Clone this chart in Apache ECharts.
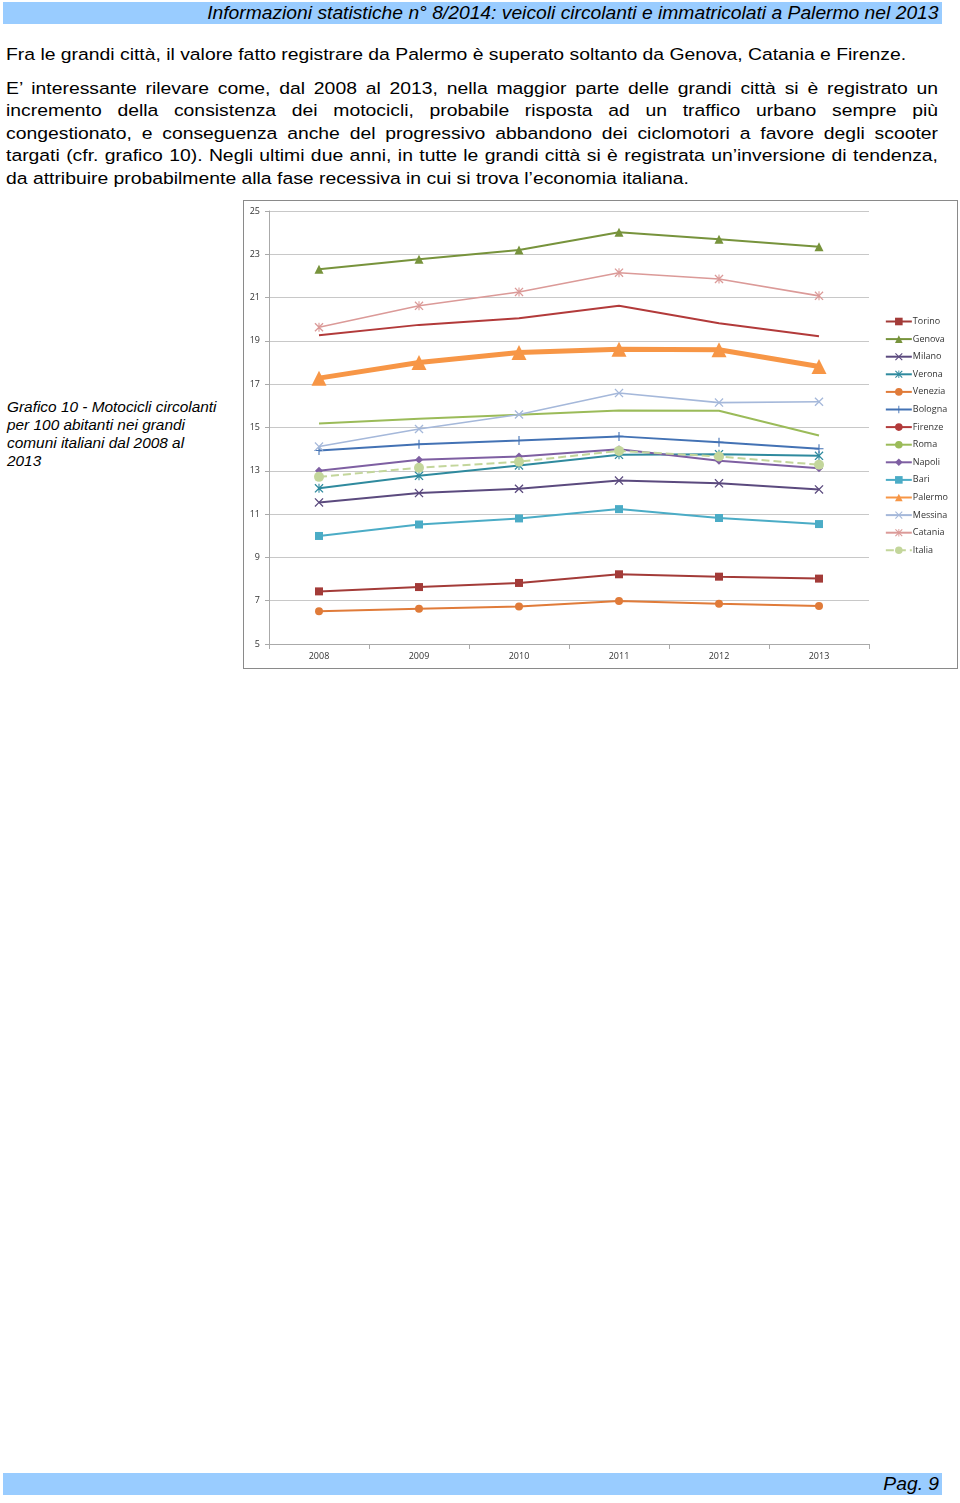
<!DOCTYPE html>
<html><head><meta charset="utf-8">
<script src="https://cdn.jsdelivr.net/npm/echarts@6/dist/echarts.min.js"></script>
<style>
html,body{margin:0;padding:0;background:#fff;}
body{width:960px;height:1503px;position:relative;font-family:"Liberation Sans",Arial,sans-serif;color:#000;}
.band{position:absolute;left:3px;width:939px;height:22px;background:#99CCFF;}
.band span{position:absolute;right:3px;font-style:italic;font-size:18px;line-height:22px;top:0;transform:scaleX(1.07);transform-origin:right center;white-space:nowrap;}
.p{position:absolute;left:6px;width:828px;font-size:17.2px;line-height:22.4px;transform:scaleX(1.1256);transform-origin:left top;}
.l{display:block;text-align:justify;text-align-last:justify;white-space:nowrap;}
.l.last{text-align-last:left;}
.cap{position:absolute;left:7px;top:398px;font-style:italic;font-size:14.8px;line-height:18px;white-space:nowrap;transform:scaleX(1.04);transform-origin:left top;}
#chart{position:absolute;left:243px;top:200px;width:715px;height:469px;box-sizing:border-box;border:1px solid #8a8a8a;}
</style></head>
<body>
<div class="band" style="top:2px"><span>Informazioni statistiche n° 8/2014: veicoli circolanti e immatricolati a Palermo nel 2013</span></div>
<div class="p" style="top:43px"><span class="l last">Fra le grandi città, il valore fatto registrare da Palermo è superato soltanto da Genova, Catania e Firenze.</span></div>
<div class="p" style="top:77px">
<span class="l">E’ interessante rilevare come, dal 2008 al 2013, nella maggior parte delle grandi città si è registrato un</span>
<span class="l">incremento della consistenza dei motocicli, probabile risposta ad un traffico urbano sempre più</span>
<span class="l">congestionato, e conseguenza anche del progressivo abbandono dei ciclomotori a favore degli scooter</span>
<span class="l">targati (cfr. grafico 10). Negli ultimi due anni, in tutte le grandi città si è registrata un’inversione di tendenza,</span>
<span class="l last">da attribuire probabilmente alla fase recessiva in cui si trova l’economia italiana.</span>
</div>
<div class="cap">Grafico 10 - Motocicli circolanti<br>per 100 abitanti nei grandi<br>comuni italiani dal 2008 al<br>2013</div>
<div id="chart"></div>
<div class="band" style="top:1473px"><span>Pag. 9</span></div>
<script>
const years = ['2008','2009','2010','2011','2012','2013'];
const Torino  = [7.43, 7.63, 7.82, 8.22, 8.11, 8.02];
const Genova  = [22.31, 22.77, 23.20, 24.02, 23.69, 23.35];
const Milano  = [11.54, 11.97, 12.17, 12.55, 12.42, 12.14];
const Verona  = [12.19, 12.77, 13.25, 13.74, 13.77, 13.69];
const Venezia = [6.51, 6.63, 6.73, 6.99, 6.86, 6.76];
const Bologna = [13.94, 14.23, 14.40, 14.59, 14.32, 14.02];
const Firenze = [19.26, 19.74, 20.05, 20.62, 19.82, 19.22];
const Roma    = [15.19, 15.40, 15.59, 15.79, 15.77, 14.63];
const Napoli  = [13.00, 13.51, 13.66, 14.00, 13.46, 13.12];
const Bari    = [9.99, 10.52, 10.80, 11.23, 10.82, 10.54];
const Palermo = [17.28, 18.00, 18.46, 18.62, 18.59, 17.82];
const Messina = [14.12, 14.93, 15.60, 16.59, 16.15, 16.19];
const Catania = [19.63, 20.62, 21.26, 22.15, 21.86, 21.08];
const Italia  = [12.72, 13.14, 13.42, 13.92, 13.66, 13.28];
const yTicks = {min:5, max:25, interval:2};

const X = 'path://M0,1L1,0L5,4L9,0L10,1L6,5L10,9L9,10L5,6L1,10L0,9L4,5Z';
const AST = 'path://M0,1L1,0L5,4L9,0L10,1L6,5L10,9L9,10L5,6L1,10L0,9L4,5ZM4.4,0L5.6,0L5.6,10L4.4,10Z';
const PLUS = 'path://M4.4,0H5.6V4.4H10V5.6H5.6V10H4.4V5.6H0V4.4H4.4Z';

function s(name, data, color, symbol, size, width, dashed){
  return {name, type:'line', data, symbol: symbol||'none', symbolSize:size||7,
    showSymbol: !!symbol,
    lineStyle:{color, width:width||2, type: dashed?'dashed':'solid'},
    itemStyle:{color},
    emphasis:{disabled:true}, animation:false};
}
const series = [
  s('Torino', Torino, '#A33B38', 'rect', 8, 2),
  s('Genova', Genova, '#77933C', 'triangle', 9, 2),
  s('Milano', Milano, '#5B4A7E', X, 9, 2),
  s('Verona', Verona, '#2F8A9E', AST, 9, 2),
  s('Venezia', Venezia, '#E07B39', 'circle', 8, 2),
  s('Bologna', Bologna, '#4372B4', PLUS, 9, 2),
  s('Firenze', Firenze, '#B23A3A', null, 0, 2),
  s('Roma', Roma, '#9BBB59', null, 0, 2),
  s('Napoli', Napoli, '#7E5FA2', 'diamond', 8, 2),
  s('Bari', Bari, '#4BACC6', 'rect', 8, 2),
  s('Palermo', Palermo, '#F79646', 'triangle', 15, 5),
  s('Messina', Messina, '#A5B8DA', X, 9, 1.6),
  s('Catania', Catania, '#DB9A98', AST, 9, 1.6),
  s('Italia', Italia, '#C3D69B', 'circle', 10, 2, true)
];
const chart = echarts.init(document.getElementById('chart'), null, {renderer:'canvas'});
chart.setOption({
  backgroundColor:'#fff',
  animation:false,
  grid:{left:25, right:88, top:10, bottom:24},
  legend:{orient:'vertical', right:4, top:111, itemGap:8.6, itemWidth:26, itemHeight:9.5,
    textStyle:{fontSize:9, color:'#333', fontFamily:'"Open Sans", sans-serif', padding:[0,0,0,-4]},
    data: series.map(x=>x.name)},
  xAxis:{type:'category', data:years, boundaryGap:true,
    axisLine:{lineStyle:{color:'#aaa'}}, axisTick:{show:true, lineStyle:{color:'#aaa'}},
    axisLabel:{fontSize:9, color:'#333', margin:8, fontFamily:'"Open Sans", sans-serif'}},
  yAxis:{type:'value', min:yTicks.min, max:yTicks.max, interval:yTicks.interval,
    axisLine:{show:true, lineStyle:{color:'#aaa'}}, axisTick:{show:true, length:4, lineStyle:{color:'#aaa'}},
    splitLine:{lineStyle:{color:'#c8c8c8'}},
    axisLabel:{fontSize:9, color:'#333', margin:9, fontFamily:'"Open Sans", sans-serif'}},
  series
});
</script>
</body></html>
